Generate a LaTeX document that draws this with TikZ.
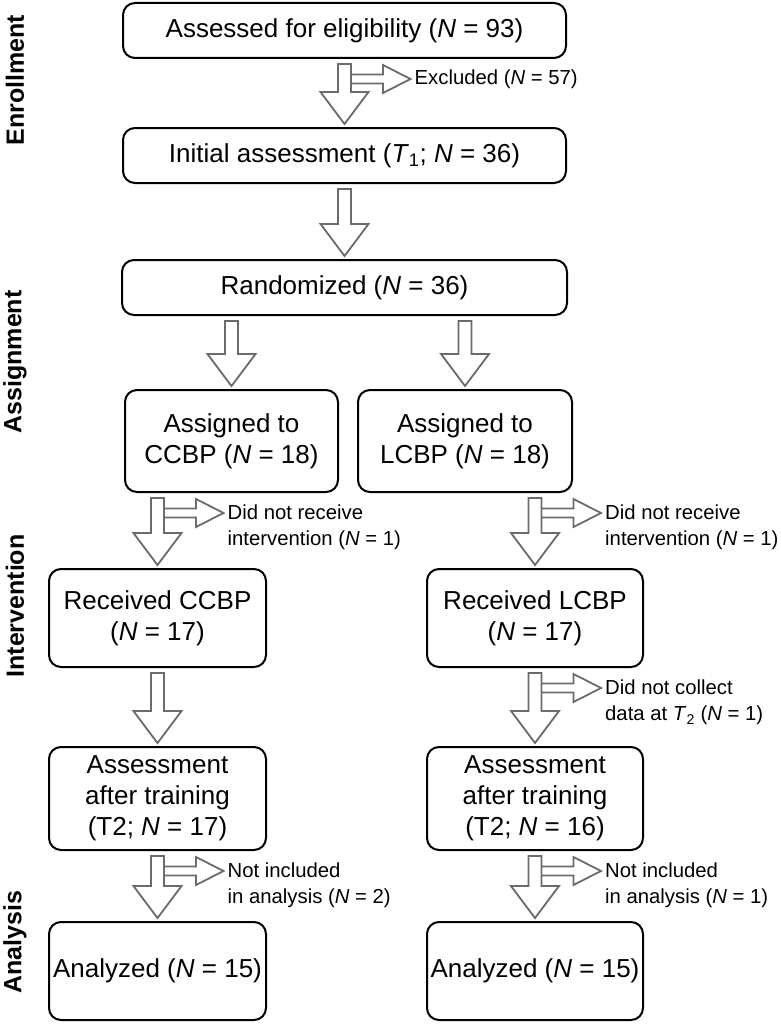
\documentclass[tikz,border=0pt]{standalone}
\usepackage{fontspec}
\setmainfont{Liberation Sans}
\usetikzlibrary{calc}
\definecolor{arrgray}{HTML}{6B6B6B}
\tikzset{
  x=1pt, y=1pt,
  box/.style={draw=black, line width=2pt, rounded corners=12pt, inner sep=0pt,
    align=center, font=\fontsize{26}{31}\selectfont},
  blk/.style={draw=arrgray, line width=1.8pt, fill=white, line join=miter},
  sidetext/.style={inner sep=0pt, align=left, font=\fontsize{20.3}{26}\selectfont},
  phase/.style={rotate=90, inner sep=0pt, font=\fontsize{25}{30}\selectfont\bfseries}
}
\newcommand{\downblk}[2]{%
  \draw[blk] let \p1=(#1.south), \p2=(#2.north) in
    (\x2-6.5pt,\y1-5pt) -- (\x2+6.5pt,\y1-5pt) -- (\x2+6.5pt,\y2+35pt) --
    (\x2+24pt,\y2+35pt) -- (\x2,\y2+3pt) -- (\x2-24pt,\y2+35pt) --
    (\x2-6.5pt,\y2+35pt) -- cycle;}
\newcommand{\sideblk}[3]{%
  \draw[blk] let \p1=(#1.south), \p2=(#2.north) in
    (\x2+6.5pt,\y1-15.5pt) -- (\x2+38.5pt,\y1-15.5pt) -- (\x2+38.5pt,\y1-6pt) --
    (\x2+66pt,\y1-20pt) -- (\x2+38.5pt,\y1-34pt) -- (\x2+38.5pt,\y1-24.5pt) --
    (\x2+6.5pt,\y1-24.5pt)
    (\x2+70pt,\y1-20pt) coordinate (#3);}
\begin{document}
\begin{tikzpicture}
\useasboundingbox[fill=white] (0,0) rectangle (780,-1025);

% boxes
\node[box, minimum width=443pt, minimum height=55pt] (b1) at (344.5,-30.5)
  {Assessed for eligibility (\textit{N} = 93)};
\node[box, minimum width=443pt, minimum height=55pt] (b2) at (344.5,-155.5)
  {Initial assessment (\textit{T}\textsubscript{1}; \textit{N} = 36)};
\node[box, minimum width=445pt, minimum height=55pt] (b3) at (344.5,-287.5)
  {Randomized (\textit{N} = 36)};
\node[box, minimum width=213pt, minimum height=102pt] (b4) at (231.5,-441)
  {Assigned to\\CCBP (\textit{N} = 18)};
\node[box, minimum width=214pt, minimum height=102pt] (b5) at (465,-441)
  {Assigned to\\LCBP (\textit{N} = 18)};
\node[box, minimum width=217pt, minimum height=98pt] (b6) at (157.5,-618)
  {Received CCBP\\(\textit{N} = 17)};
\node[box, minimum width=216pt, minimum height=98pt] (b7) at (535,-618)
  {Received LCBP\\(\textit{N} = 17)};
\node[box, minimum width=217pt, minimum height=103pt] (b8) at (157.5,-798.5)
  {Assessment\\after training\\(T2; \textit{N} = 17)};
\node[box, minimum width=216pt, minimum height=103pt] (b9) at (535,-798.5)
  {Assessment\\after training\\(T2; \textit{N} = 16)};
\node[box, minimum width=217pt, minimum height=98pt] (b10) at (157.5,-971)
  {Analyzed (\textit{N} = 15)};
\node[box, minimum width=216pt, minimum height=98pt] (b11) at (535,-971)
  {Analyzed (\textit{N} = 15)};

% phase labels
\node[phase] (p1) at (15,-80) {Enrollment};
\node[phase] (p2) at (15,-362) {Assignment};
\node[phase] (p3) at (15,-606) {Intervention};
\node[phase] (p4) at (15,-942) {Analysis};

% block arrows
\sideblk{b1}{b2}{c1}
\downblk{b1}{b2}
\downblk{b2}{b3}
\downblk{b3}{b4}
\downblk{b3}{b5}
\sideblk{b4}{b6}{c2}
\downblk{b4}{b6}
\sideblk{b5}{b7}{c3}
\downblk{b5}{b7}
\downblk{b6}{b8}
\sideblk{b7}{b9}{c4}
\downblk{b7}{b9}
\sideblk{b8}{b10}{c5}
\downblk{b8}{b10}
\sideblk{b9}{b11}{c6}
\downblk{b9}{b11}

% side labels
\node[sidetext, anchor=west] (l1) at (c1) {Excluded (\textit{N} = 57)};
\node[sidetext, anchor=north west] (l2) at ($(c2)+(0,8)$)
  {Did not receive\\intervention (\textit{N} = 1)};
\node[sidetext, anchor=north west] (l3) at ($(c3)+(0,8)$)
  {Did not receive\\intervention (\textit{N} = 1)};
\node[sidetext, anchor=north west] (l4) at ($(c4)+(0,8)$)
  {Did not collect\\data at \textit{T}\textsubscript{2} (\textit{N} = 1)};
\node[sidetext, anchor=north west] (l5) at ($(c5)+(0,8)$)
  {Not included\\in analysis (\textit{N} = 2)};
\node[sidetext, anchor=north west] (l6) at ($(c6)+(0,8)$)
  {Not included\\in analysis (\textit{N} = 1)};
\end{tikzpicture}
\end{document}
